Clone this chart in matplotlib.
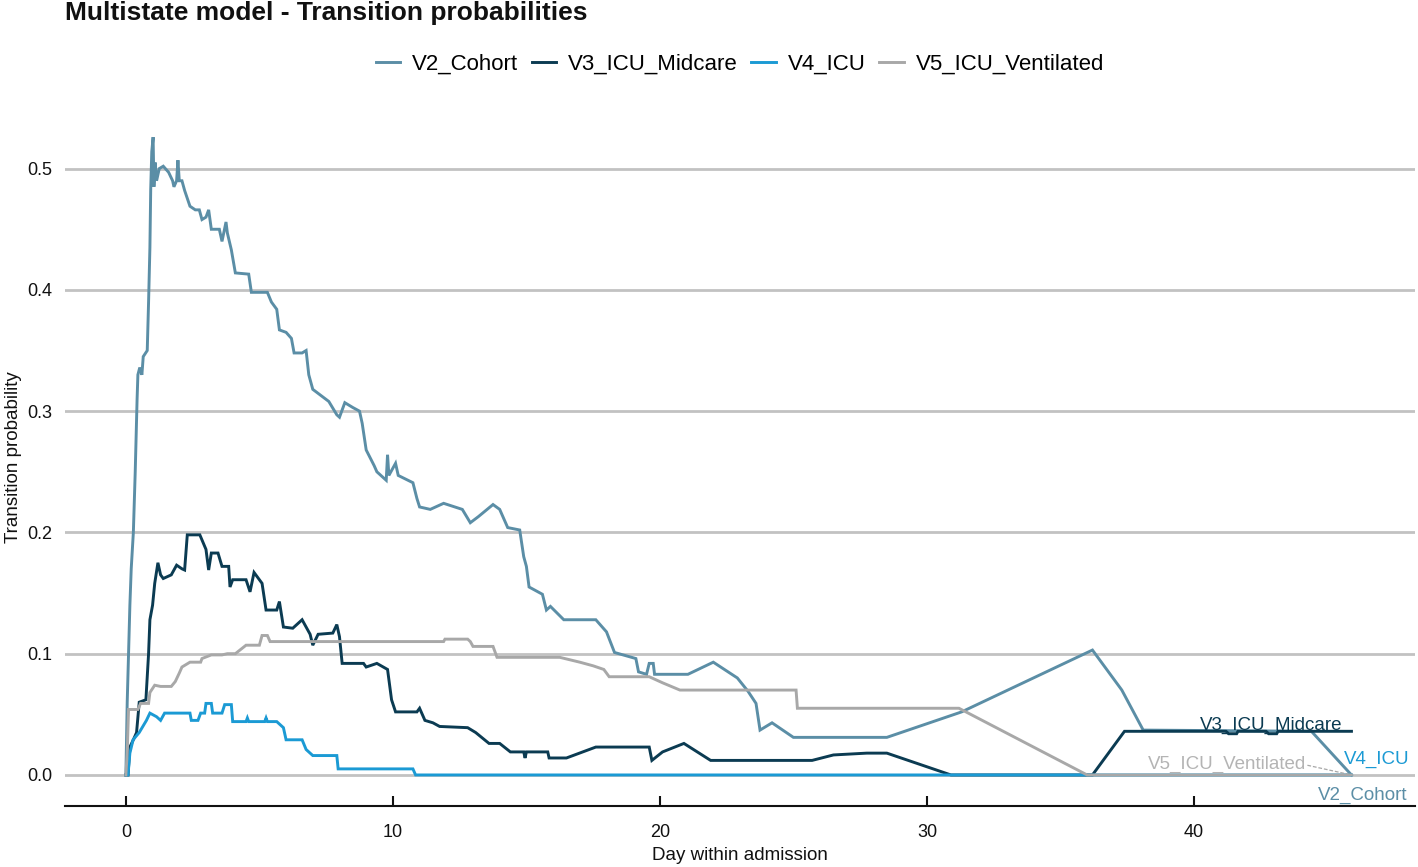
import matplotlib
matplotlib.use("Agg")
import matplotlib.pyplot as plt

plt.rcParams["font.family"] = ["Liberation Sans", "DejaVu Sans"]

# ─── data (day within admission, transition probability)
v2_day = [0.0, 0.05, 0.1, 0.15, 0.2, 0.28, 0.35, 0.42, 0.45, 0.52, 0.6, 0.65, 0.8, 0.85, 0.9,
          0.93, 0.97, 1.02, 1.05, 1.1, 1.15, 1.25, 1.4, 1.6, 1.75, 1.8, 1.9, 1.95, 2.0, 2.1,
          2.2, 2.4, 2.6, 2.75, 2.85, 3.0, 3.1, 3.2, 3.5, 3.6, 3.75, 3.8, 3.95, 4.1, 4.6, 4.7,
          5.3, 5.45, 5.65, 5.75, 6.0, 6.2, 6.3, 6.6, 6.75, 6.85, 7.0, 7.6, 7.9, 8.0, 8.2, 8.5,
          8.75, 8.85, 9.0, 9.3, 9.4, 9.75, 9.8, 9.85, 10.1, 10.2, 10.75, 10.9, 11.0, 11.4,
          11.9, 12.6, 12.9, 13.2, 13.75, 14.0, 14.3, 14.75, 14.9, 15.0, 15.1, 15.6, 15.75,
          15.9, 16.4, 17.6, 18.0, 18.3, 19.1, 19.2, 19.5, 19.6, 19.75, 19.8, 21.05, 22.0,
          22.9, 23.3, 23.6, 23.75, 24.2, 25.0, 28.5, 31.3, 36.2, 37.3, 38.1, 44.4, 45.9]
v2_prob = [0.0, 0.06, 0.1, 0.14, 0.17, 0.2, 0.25, 0.31, 0.33, 0.336, 0.33, 0.345, 0.35, 0.39, 0.435,
           0.483, 0.514, 0.526, 0.485, 0.505, 0.49, 0.5, 0.502, 0.497, 0.49, 0.485, 0.49, 0.507, 0.49, 0.49,
           0.482, 0.469, 0.466, 0.466, 0.458, 0.46, 0.466, 0.45, 0.45, 0.44, 0.456, 0.447, 0.433, 0.414, 0.413, 0.398,
           0.398, 0.39, 0.384, 0.367, 0.365, 0.36, 0.348, 0.348, 0.35, 0.33, 0.318, 0.308, 0.297, 0.295, 0.307, 0.303,
           0.3, 0.29, 0.268, 0.255, 0.25, 0.243, 0.264, 0.247, 0.257, 0.247, 0.241, 0.228, 0.221, 0.219,
           0.224, 0.219, 0.208, 0.213, 0.223, 0.219, 0.204, 0.202, 0.18, 0.172, 0.155, 0.149, 0.136,
           0.139, 0.128, 0.128, 0.118, 0.101, 0.096, 0.085, 0.083, 0.092, 0.092, 0.083, 0.083, 0.093,
           0.08, 0.069, 0.059, 0.037, 0.043, 0.031, 0.031, 0.052, 0.103, 0.07, 0.037, 0.036, 0.0]

v3_day = [0.0, 0.08, 0.15, 0.3, 0.4, 0.5, 0.75, 0.85, 0.9, 1.0, 1.08, 1.2, 1.3, 1.4, 1.7, 1.9,
          2.1, 2.2, 2.3, 2.77, 3.0, 3.1, 3.2, 3.45, 3.6, 3.85, 3.9, 4.0, 4.5, 4.65, 4.8, 5.1,
          5.25, 5.65, 5.75, 5.9, 6.25, 6.6, 6.9, 7.0, 7.2, 7.75, 7.9, 8.0, 8.1, 8.9, 9.0, 9.4,
          9.8, 9.95, 10.1, 10.9, 11.0, 11.2, 11.5, 11.75, 12.8, 13.1, 13.6, 14.0, 14.4, 14.9,
          14.95, 15.0, 15.8, 15.85, 16.5, 17.6, 19.6, 19.7, 20.1, 20.9, 21.9, 25.7, 26.5,
          27.75, 28.5, 30.9, 36.2, 37.4, 41.2, 41.3, 41.6, 41.65, 42.7, 42.8, 43.1, 43.15, 45.9]
v3_prob = [0.0, 0.0, 0.023, 0.03, 0.035, 0.06, 0.062, 0.1, 0.128, 0.14, 0.158, 0.175, 0.165, 0.162, 0.165, 0.173,
           0.17, 0.169, 0.198, 0.198, 0.186, 0.169, 0.183, 0.183, 0.172, 0.172, 0.155, 0.161, 0.161, 0.151, 0.167, 0.158,
           0.136, 0.136, 0.143, 0.122, 0.121, 0.128, 0.116, 0.107, 0.116, 0.117, 0.124, 0.114, 0.092, 0.092, 0.089, 0.092,
           0.087, 0.062, 0.052, 0.052, 0.055, 0.045, 0.043, 0.04, 0.039, 0.035, 0.026, 0.026, 0.019, 0.019,
           0.014, 0.019, 0.019, 0.014, 0.014, 0.023, 0.023, 0.012, 0.019, 0.026, 0.012, 0.012, 0.0165,
           0.018, 0.018, 0.0, 0.0, 0.036, 0.036, 0.034, 0.034, 0.036, 0.036, 0.034, 0.034, 0.036, 0.036]

v4_day = [0.0, 0.08, 0.15, 0.27, 0.5, 0.77, 0.9, 1.15, 1.3, 1.45, 2.4, 2.45, 2.7, 2.8, 2.95,
          3.0, 3.2, 3.25, 3.6, 3.7, 3.95, 4.0, 4.5, 4.55, 4.6, 5.2, 5.25, 5.3, 5.65, 5.9, 6.0,
          6.6, 6.75, 7.0, 7.9, 7.95, 10.75, 10.85, 45.9]
v4_prob = [0.0, 0.0, 0.018, 0.029, 0.035, 0.045, 0.051, 0.048, 0.045, 0.051, 0.051, 0.045, 0.045, 0.051, 0.051,
           0.059, 0.059, 0.051, 0.051, 0.058, 0.058, 0.044, 0.044, 0.047, 0.044, 0.044, 0.047, 0.044, 0.044, 0.039, 0.029,
           0.029, 0.021, 0.016, 0.016, 0.005, 0.005, 0.0, 0.0]

v5_day = [0.0, 0.05, 0.1, 0.45, 0.55, 0.85, 0.9, 1.08, 1.3, 1.7, 1.85, 2.0, 2.1, 2.4, 2.8,
          2.85, 3.2, 3.6, 3.8, 4.1, 4.5, 5.0, 5.1, 5.3, 5.4, 11.9, 11.95, 12.8, 12.9, 13.0,
          13.75, 13.9, 16.25, 17.0, 17.5, 17.9, 18.1, 19.6, 20.1, 20.75, 25.1, 25.15, 31.2,
          36.0, 45.9]
v5_prob = [0.0, 0.018, 0.054, 0.054, 0.059, 0.059, 0.068, 0.074, 0.073, 0.073, 0.077, 0.084, 0.089, 0.093, 0.093,
           0.096, 0.099, 0.099, 0.1, 0.1, 0.107, 0.107, 0.115, 0.115, 0.11, 0.11, 0.112, 0.112, 0.11, 0.106,
           0.106, 0.097, 0.097, 0.093, 0.09, 0.087, 0.081, 0.081, 0.076, 0.07, 0.07, 0.055, 0.055,
           0.0, 0.0]

states = ["V2_Cohort", "V3_ICU_Midcare", "V4_ICU", "V5_ICU_Ventilated"]
colors = ["#5b8ea6", "#0b3b52", "#1b9ad4", "#a8a8a8"]
series = [(v2_day, v2_prob), (v3_day, v3_prob), (v4_day, v4_prob), (v5_day, v5_prob)]

# end-of-line direct labels: (x, y, ha, va)
label_pos = [(48.0, -0.0165, "right", "center"),
             (42.9, 0.0375, "center", "baseline"),
             (45.6, 0.0125, "left", "center"),
             (44.2, 0.009, "right", "center")]

# ─── figure
fig = plt.figure(figsize=(14.18, 8.67), dpi=100)
ax = fig.add_axes([65 / 1418, 1 - 806 / 867, 1350 / 1418, (806 - 108) / 867])

for k, (d, p) in enumerate(series):
    ax.plot(d, p, color=colors[k], lw=2.1, label=states[k], solid_joinstyle="miter", zorder=3 + k)

for k, (x, y, ha, va) in enumerate(label_pos):
    ax.text(x, y, states[k], color=colors[k] if k != 3 else "#b4b4b4",
            fontsize=13.5, ha=ha, va=va, zorder=10)
# leader line from V5 label to its end point
ax.plot([44.25, v5_day[-1]], [0.008, v5_prob[-1]], color="#a8a8a8", lw=0.9,
        ls=(0, (3, 1.5)), zorder=9)

ax.set_xlim(-2.28, 48.28)
ax.set_ylim(-0.0256, 0.55)
ax.set_xticks([0, 10, 20, 30, 40])
ax.set_yticks([0.0, 0.1, 0.2, 0.3, 0.4, 0.5])
ax.set_yticklabels(["0.0", "0.1", "0.2", "0.3", "0.4", "0.5"])
ax.grid(axis="y", color="#c2c2c2", lw=2.0, zorder=0)
ax.set_axisbelow(True)

for s in ["top", "right", "left"]:
    ax.spines[s].set_visible(False)
ax.spines["bottom"].set_color("#111111")
ax.spines["bottom"].set_linewidth(1.5)
ax.tick_params(axis="x", direction="in", length=7, width=1.5, color="#111111",
               labelsize=13, pad=13, labelcolor="#111111")
ax.tick_params(axis="y", length=0, labelsize=13, pad=9, labelcolor="#111111")

ax.set_xlabel("Day within admission", fontsize=13.5, labelpad=4, color="#111111")
ax.set_ylabel("Transition probability", fontsize=13.5, labelpad=4, color="#111111")

ax.legend(loc="center", bbox_to_anchor=(0.5, 1 + (108 - 64) / 698), ncol=4, frameon=False,
          fontsize=16, handlelength=1.1, handletextpad=0.55, columnspacing=0.6)

fig.text(65 / 1418, 1 - 13 / 867, "Multistate model - Transition probabilities",
         fontsize=19, fontweight="bold", ha="left", va="center", color="#111111")

fig.savefig("out.png", dpi=100)
